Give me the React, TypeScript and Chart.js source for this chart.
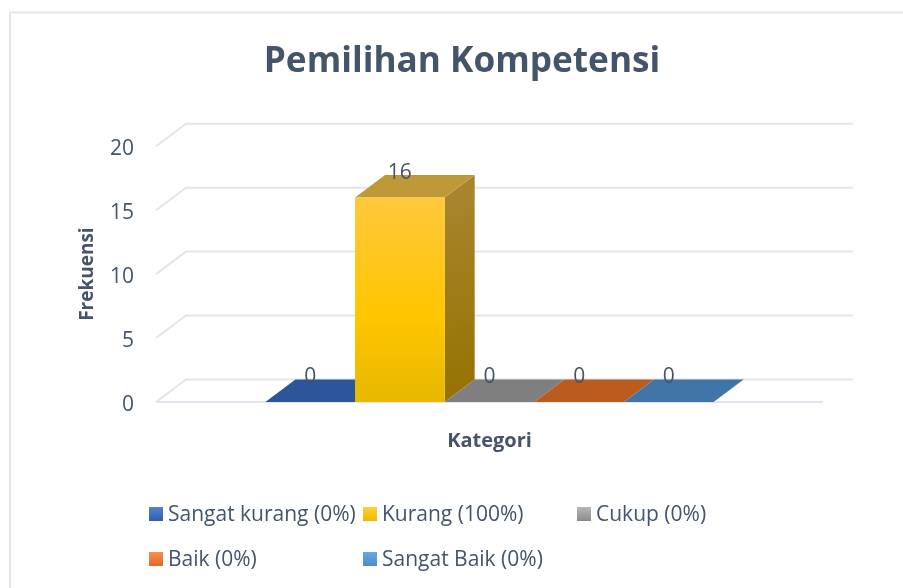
import React, { useEffect, useRef } from "react";
import { Chart, registerables } from "chart.js";

Chart.register(...registerables);

const categories = ["Kategori"];
const seriesNames = ["Sangat kurang (0%)", "Kurang (100%)", "Cukup (0%)", "Baik (0%)", "Sangat Baik (0%)"];
const seriesValues = [0, 16, 0, 0, 0];
const yTicks = [0, 5, 10, 15, 20];

const frontStops = [
  ["#2D5599", "#2D5599", "#2D5599"],
  ["#FFC83D", "#FFC600", "#E6B800"],
  ["#7F7F7F", "#7F7F7F", "#7F7F7F"],
  ["#BA5C1E", "#BA5C1E", "#BA5C1E"],
  ["#4275A7", "#4275A7", "#4275A7"],
];
const topFaces = ["#2D5599", "#BF9838", "#7F7F7F", "#BA5C1E", "#4275A7"];
const sideFaces = [["#24447A", "#24447A"], ["#A8842C", "#957200"], ["#666", "#666"], ["#954A18", "#954A18"], ["#355E86", "#355E86"]];
const legendStops = [
  ["#5B80CC", "#2F5CB0"],
  ["#FFD035", "#F0B800"],
  ["#B8B8B8", "#8A8A8A"],
  ["#F59152", "#E06A20"],
  ["#6BA9E0", "#4A8CC8"],
];

const INK = "#44546A";
const GRID = "#E1E5EE";
const FONT = "'Open Sans'";
const DX = 30;
const DY = 22.5;
const legendCols = [149, 363, 577];
const legendRows = [514, 559];

const poly = (ctx: CanvasRenderingContext2D, pts: number[][], fill: any) => {
  ctx.beginPath();
  pts.forEach((p, i) => (i ? ctx.lineTo(p[0], p[1]) : ctx.moveTo(p[0], p[1])));
  ctx.closePath();
  ctx.fillStyle = fill;
  ctx.fill();
};

const chart3d = {
  id: "chart3d",
  beforeDraw(chart: any) {
    const { ctx } = chart;
    ctx.save();
    ctx.strokeStyle = GRID;
    ctx.lineWidth = 2;
    ctx.beginPath();
    ctx.moveTo(10, 588);
    ctx.lineTo(10, 12.5);
    ctx.lineTo(903, 12.5);
    ctx.stroke();
    ctx.restore();
  },
  beforeDatasetsDraw(chart: any) {
    const { ctx, chartArea, scales } = chart;
    ctx.save();
    ctx.strokeStyle = GRID;
    ctx.lineWidth = 2;
    yTicks.forEach((v) => {
      const y = scales.y.getPixelForValue(v);
      ctx.beginPath();
      ctx.moveTo(chartArea.left, y);
      ctx.lineTo(chartArea.left + DX, y - DY);
      ctx.lineTo(chartArea.right + DX, y - DY);
      ctx.stroke();
    });
    const y0 = scales.y.getPixelForValue(0);
    ctx.beginPath();
    ctx.moveTo(chartArea.left, y0);
    ctx.lineTo(chartArea.right, y0);
    ctx.stroke();
    seriesValues.forEach((_, i) => {
      const bar = chart.getDatasetMeta(i).data[0];
      const x0 = bar.x - bar.width / 2;
      const x1 = bar.x + bar.width / 2;
      const top = bar.y;
      const base = bar.base;
      if (base - top > 0.5) {
        const g = ctx.createLinearGradient(x1, top, x1 + DX, base);
        g.addColorStop(0, sideFaces[i][0]);
        g.addColorStop(1, sideFaces[i][1]);
        poly(ctx, [[x1, top], [x1 + DX, top - DY], [x1 + DX, base - DY], [x1, base]], g);
      }
      poly(ctx, [[x0, top], [x0 + DX, top - DY], [x1 + DX, top - DY], [x1, top]], topFaces[i]);
    });
    ctx.restore();
  },
  afterDatasetsDraw(chart: any) {
    const { ctx } = chart;
    ctx.save();
    ctx.fillStyle = INK;
    ctx.font = `21px ${FONT}`;
    ctx.textAlign = "center";
    ctx.textBaseline = "middle";
    seriesValues.forEach((v, i) => {
      const bar = chart.getDatasetMeta(i).data[0];
      ctx.fillText(String(v), bar.x, bar.y - 24.5);
    });
    ctx.restore();
  },
  afterDraw(chart: any) {
    const { ctx } = chart;
    ctx.save();
    ctx.font = `21px ${FONT}`;
    ctx.textAlign = "left";
    ctx.textBaseline = "middle";
    seriesNames.forEach((name, i) => {
      const x = legendCols[i % 3];
      const y = legendRows[Math.floor(i / 3)];
      const g = ctx.createLinearGradient(0, y - 7, 0, y + 7);
      g.addColorStop(0, legendStops[i][0]);
      g.addColorStop(1, legendStops[i][1]);
      ctx.fillStyle = g;
      ctx.fillRect(x, y - 7, 14, 14);
      ctx.fillStyle = INK;
      ctx.fillText(name, x + 19, y + 1);
    });
    ctx.restore();
  },
};

export default function App() {
  const ref = useRef<HTMLCanvasElement>(null);
  useEffect(() => {
    const chart = new Chart(ref.current as HTMLCanvasElement, {
      type: "bar",
      plugins: [chart3d],
      data: {
        labels: categories,
        datasets: seriesNames.map((label, i) => ({
          label,
          data: [seriesValues[i]],
          backgroundColor: (c: any) => {
            const area = c.chart.chartArea;
            if (!area) return frontStops[i][1];
            const g = c.chart.ctx.createLinearGradient(0, c.chart.scales.y.getPixelForValue(seriesValues[i]), 0, area.bottom);
            g.addColorStop(0, frontStops[i][0]);
            g.addColorStop(0.58, frontStops[i][1]);
            g.addColorStop(1, frontStops[i][2]);
            return g;
          },
          borderWidth: 0,
          categoryPercentage: 0.672,
          barPercentage: 1,
        })),
      },
      options: {
        responsive: false,
        animation: false,
        layout: { padding: { left: 101, right: 80, top: 0, bottom: 0 } },
        plugins: {
          legend: { display: false },
          tooltip: { enabled: false },
          title: {
            display: true,
            text: "Pemilihan Kompetensi",
            color: INK,
            font: { family: FONT, size: 35.2, weight: "bold", lineHeight: 1.2 },
            padding: { top: 41, bottom: 63 },
          },
        },
        scales: {
          x: {
            grid: { display: false },
            border: { display: false },
            ticks: { display: false },
            afterFit: (s: any) => { s.height = 186; },
            title: {
              display: true,
              text: "Kategori",
              color: INK,
              font: { family: FONT, size: 20, weight: "bold", lineHeight: 1.2 },
              padding: { top: 0, bottom: 135 },
            },
          },
          y: {
            min: 0,
            max: 20,
            grid: { display: false },
            border: { display: false },
            ticks: {
              stepSize: 5,
              padding: 14,
              labelOffset: 3,
              color: INK,
              font: { family: FONT, size: 21 },
            },
            afterFit: (s: any) => { s.width = 55; },
            title: {
              display: true,
              text: "Frekuensi",
              color: INK,
              font: { family: FONT, size: 19, weight: "bold", lineHeight: 1.2 },
              padding: { top: -25, bottom: 0 },
            },
          },
        },
      },
    } as any);
    return () => chart.destroy();
  }, []);
  return (
    <div style={{ position: "absolute", left: 0, top: 0, width: 903, height: 588, background: "#fff" }}>
      <canvas ref={ref} width={903} height={588} style={{ display: "block" }} />
    </div>
  );
}
